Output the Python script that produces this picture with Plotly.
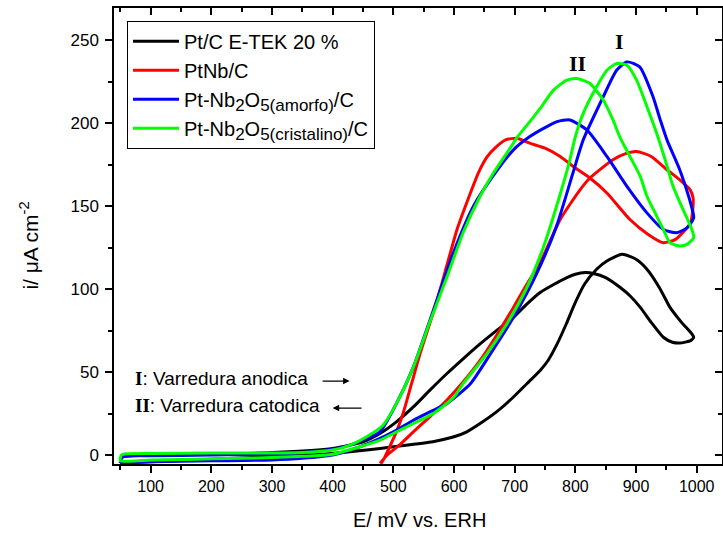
import plotly.graph_objects as go

# ---------------- data ----------------
# Pt/C E-TEK 20 %  (forward sweep then backward sweep)
ptc_E = [50, 100, 200, 300, 400, 456, 500, 565, 600, 621, 643, 670, 698, 720, 742, 755, 770, 785, 800, 815, 835, 852, 877, 900, 918, 940, 956, 975, 992, 995,
         990, 972, 960, 945, 925, 907, 890, 874, 850, 830, 816, 800, 786, 765, 742, 720, 698, 670, 643, 615, 588, 560, 533, 505, 478, 450, 400, 300, 200, 100, 50]
ptc_I = [-5, -4, -2.5, -1, 1, 3, 5, 8, 11, 14, 19, 26, 35, 43, 51, 57, 67, 79, 92, 103, 112, 117, 121, 118, 112, 100, 89, 80, 73, 71,
         69, 67.5, 68, 71, 80, 89, 96, 101, 107, 109.5, 110, 109, 107, 103, 98, 91, 83, 75, 67, 58, 49, 39, 29, 20, 13, 8, 4, 1.5, 0.5, 0, -1]

# PtNb/C
ptnb_E = [478, 490, 510, 533, 560, 588, 615, 643, 670, 698, 720, 742, 775, 808, 824, 862, 885, 901, 925, 951, 975, 989, 994,
          994, 990, 984, 965, 945, 920, 890, 852, 824, 800, 775, 750, 725, 704, 685, 670, 655, 640, 625, 605, 588, 572, 558, 544, 530, 516, 505, 494, 485, 480]
ptnb_I = [-5, 0, 6, 14, 23, 33, 44, 57, 72, 89, 103, 116, 142, 160, 167, 178, 182, 183, 180, 172, 165, 160, 155,
          150, 140, 137, 130, 128, 133, 142, 158, 167, 173, 180, 185, 188, 191, 190, 186, 180, 170, 156, 136, 114, 93, 77, 61, 43, 25, 14, 5, -2, -5]

# Pt-Nb2O5(amorfo)/C
am_E = [50, 100, 200, 300, 350, 400, 445, 478, 500, 533, 560, 588, 627, 660, 698, 737, 769, 796, 813, 846, 868, 885, 906, 928, 940, 951, 972, 985, 992, 995,
        984, 967, 945, 918, 885, 852, 819, 791, 770, 753, 725, 698, 660, 632, 599, 560, 533, 505, 478, 456, 429, 400, 350, 300, 200, 100, 60, 52, 50]
am_I = [-4.5, -4, -3.5, -3, -2, 0, 5, 10, 14, 21, 26, 31, 43, 61, 83, 110, 138, 170, 190, 216, 232, 237, 234, 216, 202, 190, 172, 158, 149, 143,
        137, 134, 136, 146, 162, 180, 196, 202, 201, 198, 192, 184, 166, 150, 122, 81, 53, 31, 14, 10, 6, 3.5, 1.5, 0.5, 0, -0.5, -0.5, -2, -5]

# Pt-Nb2O5(cristalino)/C
cr_E = [50, 100, 150, 200, 250, 300, 350, 400, 445, 478, 500, 533, 566, 600, 615, 654, 687, 720, 747, 769, 791, 800, 813, 835, 852, 868, 885, 901, 918, 934, 948, 961, 975, 985, 992, 995,
        984, 972, 956, 945, 930, 918, 907, 890, 873, 862, 846, 824, 802, 786, 764, 742, 725, 705, 687, 665, 643, 615, 588, 560, 533, 505, 483, 456, 429, 400, 350, 300, 200, 100, 60, 52, 50]
cr_I = [-3.5, -3, -2.7, -2.3, -2, -1.5, -0.8, 0.5, 5, 9, 13, 19, 25, 35, 43, 61, 79, 101, 125, 150, 178, 192, 206, 222, 232, 236, 235, 226, 210, 194, 178, 162, 150, 142, 136, 131,
        127, 126, 128, 136, 147, 156, 168, 180, 192, 202, 214, 224, 227, 226, 220, 209, 201, 192, 182, 170, 156, 134, 107, 80, 53, 31, 18, 11, 6, 3, 1.5, 1.2, 1.2, 1, 0.8, 0, -3.5]

SUB = "<sub><span style='font-size:17px'>{}</span></sub>"
series_names = ["Pt/C E-TEK 20 %", "PtNb/C",
                "Pt-Nb" + SUB.format("2") + "O" + SUB.format("5(amorfo)") + "/C",
                "Pt-Nb" + SUB.format("2") + "O" + SUB.format("5(cristalino)") + "/C"]
series_colors = ["#000000", "#ff0000", "#0000ff", "#00ff00"]

x_ticks = [100, 200, 300, 400, 500, 600, 700, 800, 900, 1000]
y_ticks = [0, 50, 100, 150, 200, 250]

# ---------------- figure ----------------
FONT = "Liberation Sans, Arial, sans-serif"
fig = go.Figure()
for E, I, name, col in zip([ptc_E, ptnb_E, am_E, cr_E], [ptc_I, ptnb_I, am_I, cr_I], series_names, series_colors):
    fig.add_trace(go.Scatter(x=E, y=I, mode="lines", name=name,
                             line=dict(color=col, width=3, shape="spline", smoothing=0.6)))

# dummy trace for the mirror axes
fig.add_trace(go.Scatter(x=[None], y=[None], xaxis="x2", yaxis="y2", showlegend=False, hoverinfo="skip"))

XR = [39.6, 1041.7]
YR = [-5.4, 269.5]
axis_common = dict(showline=True, linecolor="black", linewidth=1.5, showgrid=False, zeroline=False,
                   tickcolor="black", tickwidth=1.5, ticklen=7)

fig.update_layout(
    width=723, height=534,
    margin=dict(l=114, r=1, t=8, b=70),
    paper_bgcolor="white", plot_bgcolor="white",
    font=dict(family=FONT, color="black", size=16),
    xaxis=dict(range=XR, tickvals=x_ticks, ticks="outside",
               minor=dict(dtick=50, tick0=0, ticks="outside", ticklen=4, tickwidth=1.5, tickcolor="black"),
               tickfont=dict(family=FONT, size=16, color="black"), **axis_common),
    yaxis=dict(range=YR, tickvals=y_ticks, ticks="outside", ticklabelstandoff=3,
               minor=dict(dtick=25, tick0=0, ticks="outside", ticklen=4, tickwidth=1.5, tickcolor="black"),
               tickfont=dict(family=FONT, size=17, color="black"), **axis_common),
    xaxis2=dict(range=XR, overlaying="x", side="top", tickvals=x_ticks, ticks="inside", showticklabels=False,
                minor=dict(dtick=50, tick0=0, ticks="inside", ticklen=4, tickwidth=1.5, tickcolor="black"),
                **axis_common),
    yaxis2=dict(range=YR, overlaying="y", side="right", tickvals=y_ticks, ticks="inside", showticklabels=False,
                minor=dict(dtick=25, tick0=0, ticks="inside", ticklen=4, tickwidth=1.5, tickcolor="black"),
                **axis_common),
    legend=dict(x=0.0214, y=0.972, xanchor="left", yanchor="top",
                bordercolor="black", borderwidth=1, bgcolor="white", itemwidth=46,
                font=dict(family=FONT, size=20, color="black"), tracegroupgap=0),
    showlegend=True,
)

SERIF = "Liberation Serif, Times New Roman, serif"
ann = [
    dict(text="E/ mV vs. ERH", xref="paper", yref="paper", x=0.503, y=-0.1228,
         showarrow=False, font=dict(family=FONT, size=20), xanchor="center", yanchor="middle"),
    dict(text="i/ \u03bcA cm<sup>-2</sup>", xref="paper", yref="paper", x=-0.139, y=0.48,
         textangle=-90, showarrow=False, font=dict(family=FONT, size=21), xanchor="center", yanchor="middle"),
    dict(text="<b>I</b>", x=872, y=249.5, xref="x", yref="y", showarrow=False,
         font=dict(family=SERIF, size=22)),
    dict(text="<b>II</b>", x=804, y=236, xref="x", yref="y", showarrow=False,
         font=dict(family=SERIF, size=22)),
    dict(text="<span style='font-family:Liberation Serif'><b>I</b></span>: Varredura anodica",
         x=71, y=46.4, xref="x", yref="y", showarrow=False, xanchor="left", yanchor="middle",
         font=dict(family=FONT, size=19)),
    dict(text="<span style='font-family:Liberation Serif'><b>II</b></span>: Varredura catodica",
         x=71, y=30, xref="x", yref="y", showarrow=False, xanchor="left", yanchor="middle",
         font=dict(family=FONT, size=19)),
    dict(text="", x=428, y=44.6, ax=381, ay=44.6, xref="x", yref="y", axref="x", ayref="y",
         showarrow=True, arrowhead=2, arrowsize=1, arrowwidth=1.3, arrowcolor="black"),
    dict(text="", x=400, y=28.3, ax=450, ay=28.3, xref="x", yref="y", axref="x", ayref="y",
         showarrow=True, arrowhead=2, arrowsize=1, arrowwidth=1.3, arrowcolor="black"),
]
fig.update_layout(annotations=ann)

fig.write_html("out.html")
